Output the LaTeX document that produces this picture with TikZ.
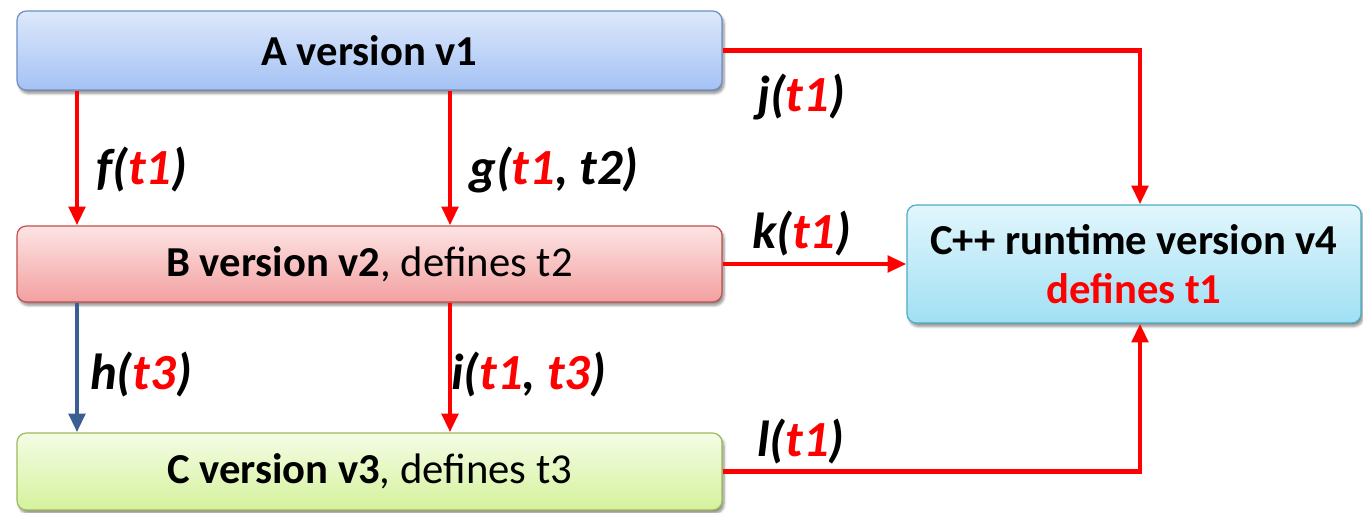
\documentclass[tikz,border=0pt]{standalone}
\usepackage{fontspec}
\setmainfont{Carlito}
\usetikzlibrary{arrows.meta,shadows.blur}
\definecolor{tred}{HTML}{FF0000}
\definecolor{hblue}{HTML}{3C5F91}
\definecolor{aTop}{HTML}{DDE8FB}
\definecolor{aBot}{HTML}{A4C2F4}
\definecolor{aLine}{HTML}{6F8FC3}
\definecolor{bTop}{HTML}{FDE4E4}
\definecolor{bBot}{HTML}{F3A0A0}
\definecolor{bLine}{HTML}{C0504D}
\definecolor{cTop}{HTML}{F4FCE5}
\definecolor{cBot}{HTML}{D5F29C}
\definecolor{cLine}{HTML}{9BBB59}
\definecolor{dTop}{HTML}{E2F6FC}
\definecolor{dBot}{HTML}{A0E0F4}
\definecolor{dLine}{HTML}{4BACC6}
\begin{document}
\begin{tikzpicture}[x=0.75pt,y=-0.75pt,
  box/.style={rounded corners=7pt, line width=0.9pt, align=center,
    font=\fontsize{32}{39}\selectfont,
    blur shadow={shadow xshift=1.5pt, shadow yshift=-2.5pt, shadow blur steps=6, shadow opacity=45}},
  boxA/.style={box, draw=aLine, top color=aTop, bottom color=aBot},
  boxB/.style={box, draw=bLine, top color=bTop, bottom color=bBot},
  boxC/.style={box, draw=cLine, top color=cTop, bottom color=cBot},
  boxD/.style={box, draw=dLine, top color=dTop, bottom color=dBot},
  flow/.style={line width=3.5pt, draw=tred, -{Triangle[length=14pt,width=12pt]}},
  flowb/.style={flow, draw=hblue},
  lbl/.style={font=\fontsize{38}{44}\selectfont\bfseries\itshape, inner sep=0pt}
]
\useasboundingbox (0,0) rectangle (1363,513);

% modules
\node[boxA, minimum width=528.75pt, minimum height=59.25pt] (A) at (369.5,50.5) {\bfseries A version v1};
\node[boxB, minimum width=528.75pt, minimum height=57pt] (B) at (369.5,264) {\bfseries B version v2\mdseries, defines t2};
\node[boxC, minimum width=528.75pt, minimum height=57.75pt] (C) at (369.5,471.5) {\bfseries C version v3\mdseries, defines t3};
\node[boxD, minimum width=340.5pt, minimum height=88.5pt] (D) at (1134,264) {\bfseries C++ runtime version v4\\[-2pt]\bfseries\color{tred}defines t1};

% arrow columns
\coordinate (xl) at (77,0);
\coordinate (xm) at (450,0);
\coordinate (xr) at (1140,0);

\draw[flow] (A.south -| xl) -- (B.north -| xl);
\draw[flow] (A.south -| xm) -- (B.north -| xm);
\draw[flowb] (B.south -| xl) -- (C.north -| xl);
\draw[flow] (B.south -| xm) -- (C.north -| xm);
\draw[flow] (A.east) -| (xr |- D.north);
\draw[flow] (B.east) -- (D.west);
\draw[flow] (C.east) -| (xr |- D.south);

% call labels
\node[lbl, anchor=west] (lf) at (96,170) {f(\textcolor{tred}{t1})};
\node[lbl, anchor=west] (lg) at (469,170) {g(\textcolor{tred}{t1}, t2)};
\node[lbl, anchor=west] (lh) at (90,375) {h(\textcolor{tred}{t3})};
\node[lbl, anchor=west] (li) at (451,375) {i(\textcolor{tred}{t1}, \textcolor{tred}{t3})};
\node[lbl, anchor=west] (lj) at (757,97) {j(\textcolor{tred}{t1})};
\node[lbl, anchor=west] (lk) at (752,234) {k(\textcolor{tred}{t1})};
\node[lbl, anchor=west] (ll) at (757,442) {l(\textcolor{tred}{t1})};
\end{tikzpicture}
\end{document}
